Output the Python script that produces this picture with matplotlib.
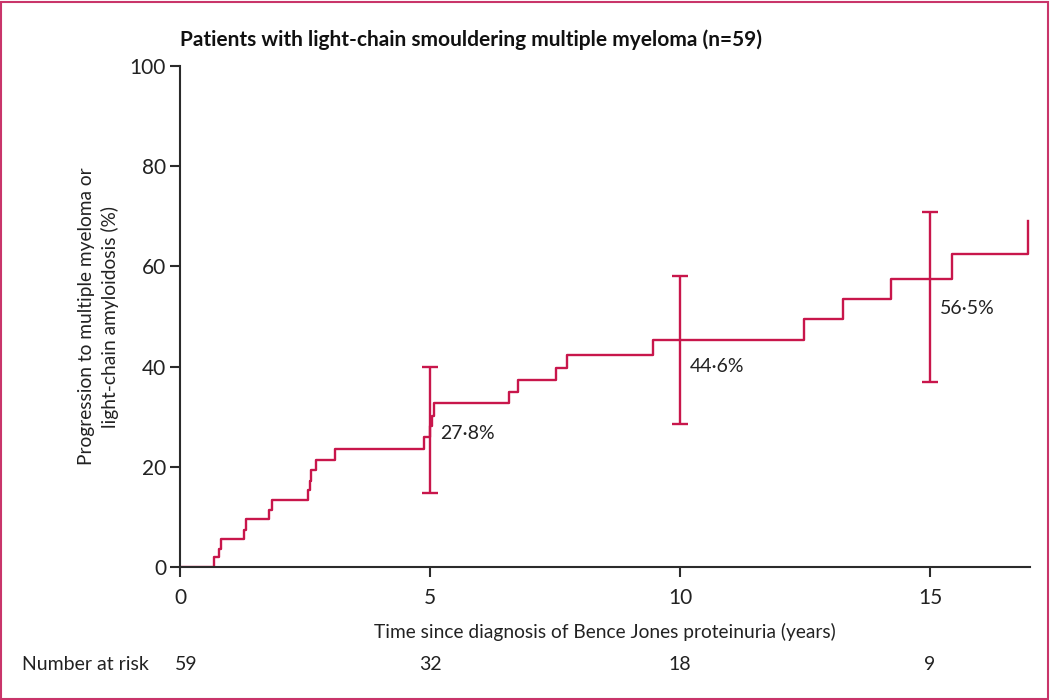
import matplotlib
matplotlib.use("Agg")
import matplotlib.pyplot as plt
import matplotlib.transforms as mtransforms
from matplotlib.patches import Rectangle

plt.rcParams['font.family'] = ['Lato', 'DejaVu Sans']

# step curve (years, %)
times = [0, 0.67, 0.77, 0.81, 1.27, 1.32, 1.77, 1.83, 2.55, 2.59, 2.62, 2.71,
         3.09, 4.87, 5.0, 5.03, 5.07, 6.58, 6.76, 7.52, 7.73, 9.46, 12.48,
         13.25, 14.21, 15.44, 16.95]
progression = [0, 1.9, 3.6, 5.5, 7.4, 9.5, 11.4, 13.3, 15.4, 17.2, 19.4, 21.4,
               23.5, 25.9, 28.1, 30.2, 32.7, 35.0, 37.3, 39.8, 42.3, 45.3, 49.5,
               53.5, 57.5, 62.5, 69.1]

# confidence bars at 5, 10, 15 years
ci_years = [5, 10, 15]
ci_low = [14.8, 28.5, 36.9]
ci_high = [39.9, 58.1, 70.9]
ci_labels = ['27·8%', '44·6%', '56·5%']
label_y = [26.7, 40.1, 51.5]

risk_years = [0, 5, 10, 15]
at_risk = [59, 32, 18, 9]

red = '#c8164b'
dark = '#2b2b2b'

fig = plt.figure(figsize=(10.5, 7), dpi=100)
ax = fig.add_axes([180/1050, 1-567/700, 850/1050, 501/700])

ax.step(times, progression, where='post', color=red, lw=1.7)
ax.errorbar(ci_years, [(l+h)/2 for l, h in zip(ci_low, ci_high)],
            yerr=[[(h-l)/2 for l, h in zip(ci_low, ci_high)]]*2,
            fmt='none', ecolor=red, elinewidth=1.7, capsize=6, capthick=1.7)
for x, y, s in zip(ci_years, label_y, ci_labels):
    ax.text(x + 0.2, y, s, fontsize=14, color='#222222', va='center', ha='left')

ax.set_xlim(0, 17)
ax.set_ylim(0, 100)
ax.set_xticks([0, 5, 10, 15])
ax.set_yticks([0, 20, 40, 60, 80, 100])
for side in ['top', 'right']:
    ax.spines[side].set_visible(False)
for side in ['left', 'bottom']:
    ax.spines[side].set_color(dark)
    ax.spines[side].set_linewidth(1.5)
ax.tick_params(axis='both', direction='out', length=7, width=1.5, color=dark,
               labelsize=15, labelcolor='#222222')
ax.tick_params(axis='x', pad=8)
ax.tick_params(axis='y', pad=3)
ax.set_xlabel('Time since diagnosis of Bence Jones proteinuria (years)',
              fontsize=13.8, color='#222222', labelpad=11)
ax.set_ylabel('Progression to multiple myeloma or\nlight-chain amyloidosis (%)',
              fontsize=13.8, color='#222222', labelpad=8, linespacing=1.35)

fig.text(180/1050, 1-40/700, 'Patients with light-chain smouldering multiple myeloma (n=59)',
         fontsize=15, fontweight='bold', color='#111111', va='center', ha='left')

trans = mtransforms.blended_transform_factory(ax.transData, fig.transFigure)
fig.text(22/1050, 1-665/700, 'Number at risk', fontsize=14, color='#222222',
         va='center', ha='left')
for x, n in zip(risk_years, at_risk):
    ax.text(x + (0.12 if x == 0 else 0), 1-665/700, str(n), transform=trans,
            fontsize=14, color='#222222', va='center', ha='center')

fig.patches.append(Rectangle((0.001, 0.0015), 0.997, 0.996, transform=fig.transFigure,
                             fill=False, edgecolor='#c9356a', lw=1.5))

fig.savefig('out.png', dpi=100)
